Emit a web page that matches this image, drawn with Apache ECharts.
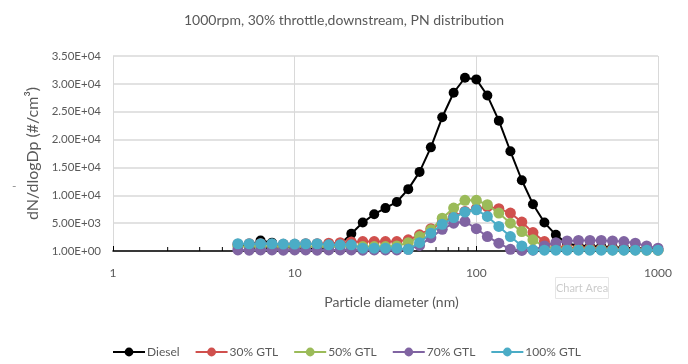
<!DOCTYPE html>
<html>
<head>
<meta charset="utf-8">
<script src="https://cdn.jsdelivr.net/npm/echarts@6/dist/echarts.min.js"></script>
<style>
  html, body { margin: 0; padding: 0; background: #ffffff; }
  #chart { width: 688px; height: 364px; }
</style>
</head>
<body>
<div id="chart"></div>
<script>
// Particle size bins (nm), 16 channels per decade
const diameters = [4.87, 5.62, 6.49, 7.50, 8.66, 10.0, 11.5, 13.3, 15.4, 17.8,
  20.5, 23.7, 27.4, 31.6, 36.5, 42.2, 48.7, 56.2, 64.9, 75.0,
  86.6, 100, 115, 133, 154, 178, 205, 237, 274, 316,
  365, 422, 487, 562, 649, 750, 866, 1000];

// dN/dlogDp (#/cm3) per bin
const diesel = [900, 1000, 1900, 1500, 800, 500, 400, 400, 500, 1200,
  3100, 5100, 6600, 7700, 8800, 11100, 14200, 18600, 24000, 28400,
  31100, 30800, 27900, 23400, 17900, 12700, 8400, 5100, 2900, 1300,
  1000, 900, 800, 700, 600, 500, 400, 300];
const gtl30 = [1200, 1300, 1300, 1200, 1200, 1200, 1300, 1300, 1400, 1500,
  1600, 1700, 1700, 1700, 1700, 2000, 2900, 4000, 5100, 6200,
  7100, 7600, 7900, 7600, 6800, 5200, 3300, 1700, 900, 600,
  500, 500, 400, 400, 300, 300, 300, 200];
const gtl50 = [800, 800, 800, 800, 800, 800, 800, 800, 800, 800,
  800, 800, 800, 800, 900, 1500, 2600, 3800, 5900, 7700,
  9100, 9100, 8300, 6800, 5000, 3500, 2000, 800, 400, 300,
  300, 250, 250, 200, 200, 200, 150, 150];
const gtl70 = [200, 150, 200, 200, 150, 200, 200, 150, 200, 200,
  200, 150, 200, 200, 200, 300, 1000, 2400, 3900, 5000,
  5300, 4000, 2600, 1400, 300, 100, 150, 900, 1500, 1800,
  1900, 1900, 1900, 1800, 1700, 1400, 900, 500];
const gtl100 = [1300, 1300, 1300, 1300, 1250, 1250, 1300, 1300, 1100, 1100,
  1100, 500, 500, 500, 500, 300, 1500, 3200, 4800, 6000,
  7000, 7400, 6200, 4400, 2600, 900, 200, 150, 150, 150,
  150, 150, 150, 150, 150, 150, 150, 150];

const seriesNames = ['Diesel', '30% GTL', '50% GTL', '70% GTL', '100% GTL'];
const seriesColors = ['#000000', '#d0504d', '#9bbb59', '#8064a2', '#4bacc6'];
const seriesValues = [diesel, gtl30, gtl50, gtl70, gtl100];

// Minor tick positions on the log axis
const minorTicks = [2, 3, 4, 5, 6, 7, 8, 9, 20, 30, 40, 50, 60, 70, 80, 90,
  200, 300, 400, 500, 600, 700, 800, 900];

const yTicks = { min: 0, max: 35000, step: 5000 };

function sciLabel(v) {
  if (v === 0) return '1.00E+00';
  const exp = Math.floor(Math.log10(v));
  const mant = v / Math.pow(10, exp);
  const e = (exp < 10 ? '0' : '') + exp;
  return mant.toFixed(2) + 'E+' + e;
}

const font = 'Lato, "Liberation Sans", sans-serif';
const textColor = '#595959';

const chart = echarts.init(document.getElementById('chart'));

const lineSeries = seriesNames.map((name, i) => ({
  name: name,
  type: 'line',
  data: diameters.map((d, j) => [d, seriesValues[i][j]]),
  symbol: 'circle',
  symbolSize: i === 0 ? 10 : 11,
  showSymbol: true,
  lineStyle: { color: seriesColors[i], width: 2 },
  itemStyle: { color: seriesColors[i] },
  z: 3 + i,
  animation: false
}));

const tickSeries = {
  name: 'minorTicks',
  type: 'custom',
  data: minorTicks.map(v => [v, 0]),
  silent: true,
  z: 2,
  animation: false,
  renderItem: function (params, api) {
    const p = api.coord([api.value(0), 0]);
    return {
      type: 'line',
      shape: { x1: p[0], y1: p[1], x2: p[0], y2: p[1] - 4 },
      style: { stroke: '#000000', lineWidth: 1 }
    };
  }
};

chart.setOption({
  backgroundColor: '#ffffff',
  animation: false,
  title: {
    text: '1000rpm, 30% throttle,downstream, PN distribution',
    left: 'center',
    top: 8,
    textStyle: { fontFamily: font, fontSize: 14, fontWeight: 'normal', color: textColor }
  },
  grid: { left: 113, right: 30, top: 56, bottom: 113 },
  legend: {
    data: seriesNames,
    top: 346,
    left: 112,
    padding: 0,
    itemWidth: 32,
    itemHeight: 11,
    itemGap: 15,
    itemStyle: { borderWidth: 0 },
    textStyle: { fontFamily: font, fontSize: 12, color: textColor, padding: [0, 0, 0, -3] }
  },
  xAxis: {
    type: 'log',
    logBase: 10,
    min: 1,
    max: 1000,
    name: 'Particle diameter (nm)',
    nameLocation: 'middle',
    nameGap: 44,
    nameTextStyle: { fontFamily: font, fontSize: 14, color: textColor, padding: [0, 0, 0, 12] },
    axisLine: { show: true, onZero: false, lineStyle: { color: '#000000', width: 1.5 } },
    axisTick: { show: true, inside: true, length: 5, lineStyle: { color: '#000000' } },
    axisLabel: { fontFamily: font, fontSize: 12, color: textColor, margin: 16,
                 formatter: v => String(v) },
    splitLine: { show: true, lineStyle: { color: '#d9d9d9', width: 1 } }
  },
  yAxis: {
    type: 'value',
    min: yTicks.min,
    max: yTicks.max,
    interval: yTicks.step,
    name: 'dN/dlogDp (#/cm³)',
    nameLocation: 'middle',
    nameGap: 71,
    nameTextStyle: { fontFamily: font, fontSize: 16, color: textColor },
    axisLine: { show: false },
    axisTick: { show: false },
    axisLabel: { fontFamily: font, fontSize: 11.5, color: textColor, margin: 12, formatter: sciLabel },
    splitLine: { show: true, lineStyle: { color: '#d9d9d9', width: 1.5 } }
  },
  graphic: [
    {
      type: 'text',
      left: 12,
      top: 180,
      style: { text: '-', fontFamily: font, fontSize: 12, fill: '#8c8c8c' }
    },
    {
      type: 'group',
      left: 555,
      top: 277,
      children: [
        { type: 'rect', shape: { x: 0, y: 0, width: 53, height: 21 },
          style: { fill: '#ffffff', stroke: '#e6e6e6', lineWidth: 1 } },
        { type: 'text', x: 26.5, y: 10.5,
          style: { text: 'Chart Area', fontFamily: font, fontSize: 11, fill: '#cccccc',
                   align: 'center', verticalAlign: 'middle' } }
      ]
    }
  ],
  series: [tickSeries].concat(lineSeries)
});
</script>
</body>
</html>
